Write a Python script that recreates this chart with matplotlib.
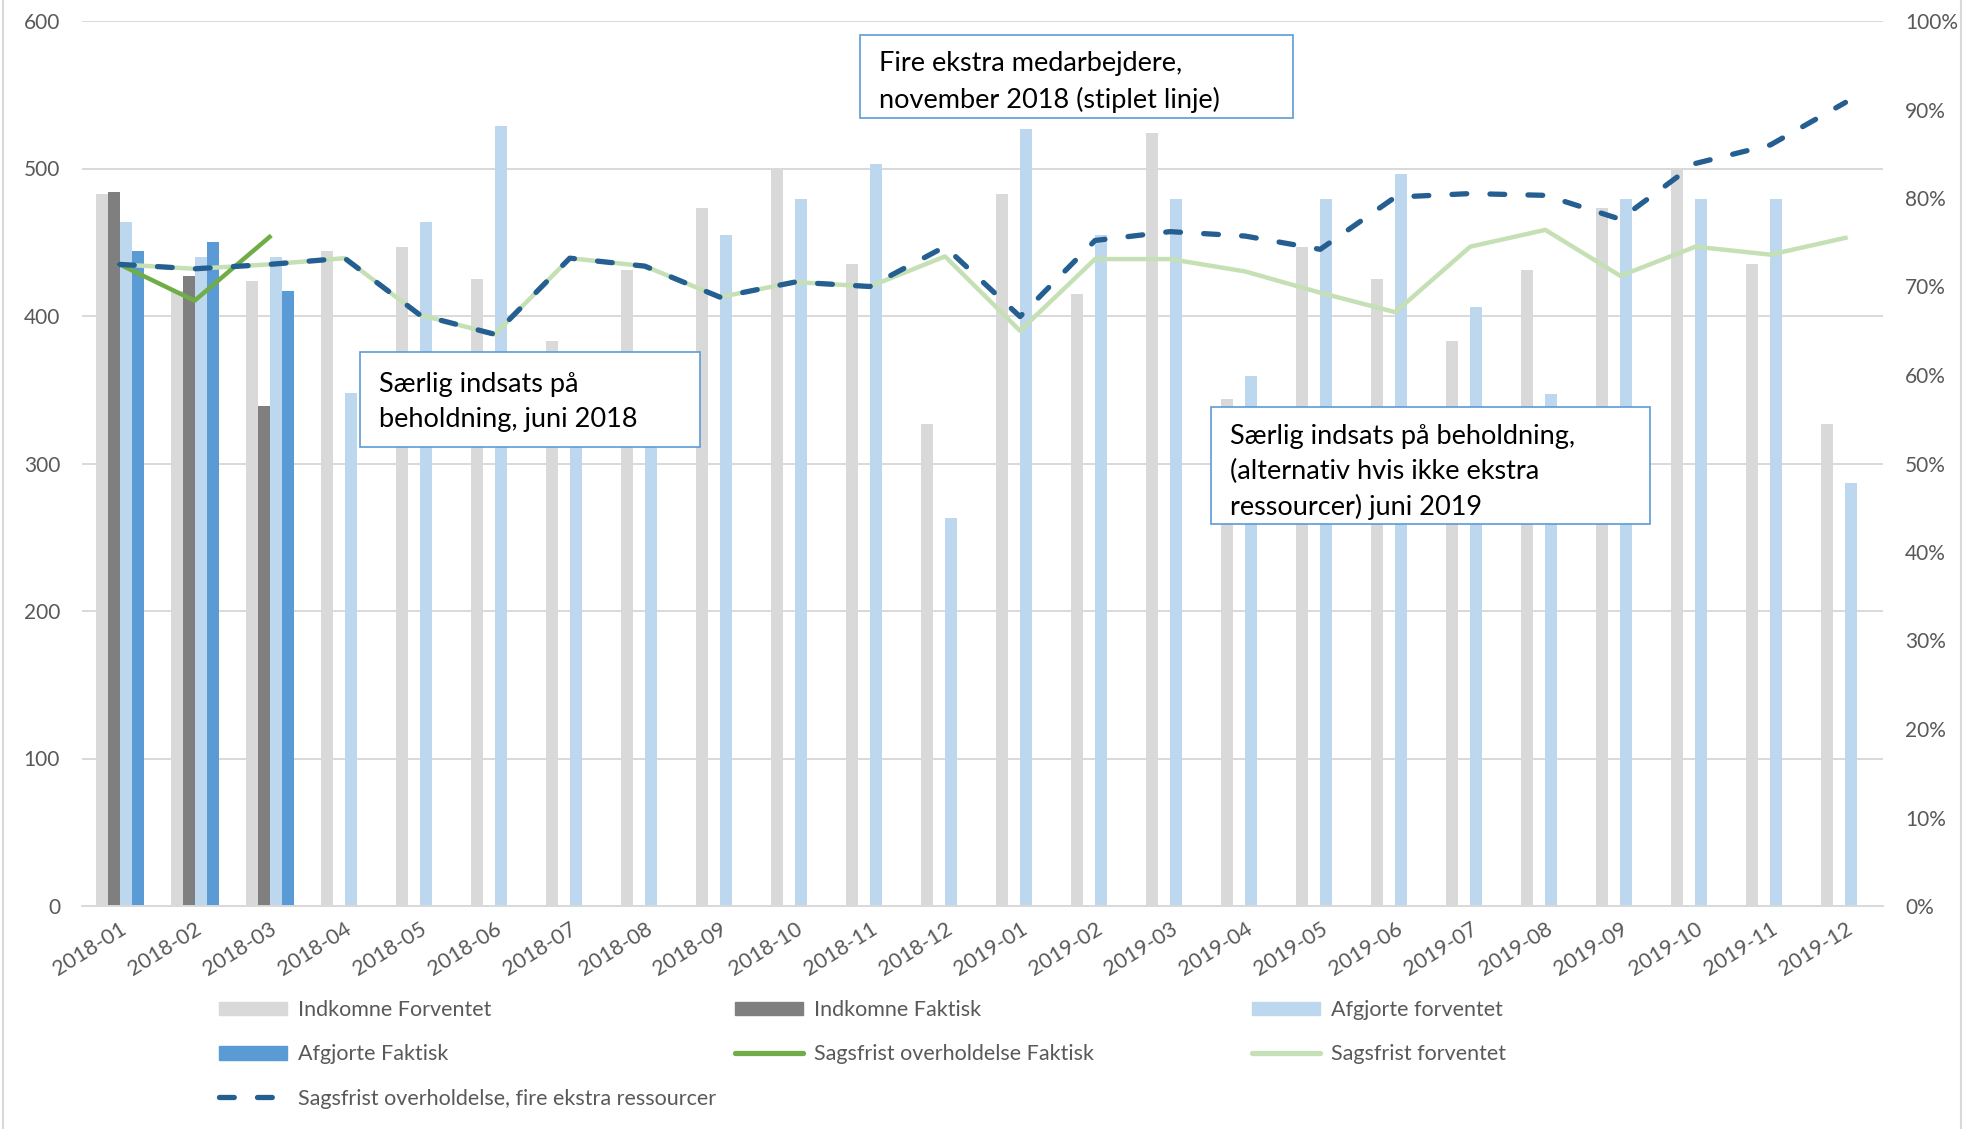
import matplotlib.pyplot as plt
from matplotlib.patches import Rectangle, Patch
from matplotlib.lines import Line2D
from matplotlib.ticker import PercentFormatter
import numpy as np

W, H = 1964, 1129

months = ['2018-01', '2018-02', '2018-03', '2018-04', '2018-05', '2018-06',
          '2018-07', '2018-08', '2018-09', '2018-10', '2018-11', '2018-12',
          '2019-01', '2019-02', '2019-03', '2019-04', '2019-05', '2019-06',
          '2019-07', '2019-08', '2019-09', '2019-10', '2019-11', '2019-12']

indkomne_forventet = [483, 417, 424, 444, 447, 425, 383, 431, 473, 500, 435, 327,
                      483, 415, 524, 344, 447, 425, 383, 431, 473, 500, 435, 327]
indkomne_faktisk = [484, 427, 339]
afgjorte_forventet = [464, 440, 440, 348, 464, 529, 340, 350, 455, 479, 503, 263,
                      527, 455, 479, 359, 479, 496, 406, 347, 479, 479, 479, 287]
afgjorte_faktisk = [444, 450, 417]

sagsfrist_faktisk = [0.725, 0.684, 0.756]
sagsfrist_forventet = [0.725, 0.720, 0.725, 0.732, 0.668, 0.646, 0.732, 0.723,
                       0.688, 0.705, 0.700, 0.734, 0.650, 0.731, 0.731, 0.717,
                       0.693, 0.671, 0.745, 0.764, 0.712, 0.745, 0.736, 0.755]
sagsfrist_ekstra = [0.725, 0.720, 0.725, 0.732, 0.668, 0.646, 0.732, 0.723,
                    0.688, 0.705, 0.700, 0.745, 0.666, 0.752, 0.762, 0.757,
                    0.742, 0.801, 0.805, 0.803, 0.776, 0.839, 0.860, 0.908]

notes = ['Særlig indsats på\nbeholdning, juni 2018',
         'Fire ekstra medarbejdere,\nnovember 2018 (stiplet linje)',
         'Særlig indsats på beholdning,\n(alternativ hvis ikke ekstra\nressourcer) juni 2019']

c_if, c_ifak = '#d9d9d9', '#7f7f7f'
c_af, c_afak = '#bdd7ee', '#5b9bd5'
c_sf, c_sforv, c_ekstra = '#70ad47', '#c5e0b4', '#255e91'
grey_txt = '#595959'

plt.rcParams['font.family'] = ['Lato', 'DejaVu Sans']


def fx(px):
    return px / W


def fy(py):
    return 1 - py / H


fig = plt.figure(figsize=(W / 100, H / 100), dpi=100)
ax = fig.add_axes([fx(82), fy(906), fx(1883) - fx(82), fy(21) - fy(906)])
ax2 = ax.twinx()

x = np.arange(len(months))
w = 0.16
ax.bar(x - 1.5 * w, indkomne_forventet, w, color=c_if, zorder=2)
ax.bar(x[:3] - 0.5 * w, indkomne_faktisk, w, color=c_ifak, zorder=2)
ax.bar(x + 0.5 * w, afgjorte_forventet, w, color=c_af, zorder=2)
ax.bar(x[:3] + 1.5 * w, afgjorte_faktisk, w, color=c_afak, zorder=2)

ax.set_xlim(-0.5, len(months) - 0.5)
ax.set_ylim(0, 600)
ax.set_yticks(range(0, 601, 100))
ax.yaxis.grid(True, color='#d9d9d9', lw=1.4, zorder=0)
ax.set_axisbelow(True)
ax.set_xticks(x)
ax.set_xticklabels(months, rotation=32, ha='right', va='top',
                   rotation_mode='anchor')
ax.tick_params(axis='x', length=0, pad=9, labelsize=15.5, labelcolor=grey_txt)
ax.tick_params(axis='y', length=0, pad=15.8, labelsize=15, labelcolor=grey_txt)
for s in ['top', 'right', 'left']:
    ax.spines[s].set_visible(False)
ax.spines['bottom'].set_color('#d9d9d9')
ax.spines['bottom'].set_linewidth(1.4)

ax2.plot(x, sagsfrist_forventet, color=c_sforv, lw=3.2, zorder=3)
ax2.plot(x[:3], sagsfrist_faktisk, color=c_sf, lw=3.2, zorder=4)
ax2.plot(x, sagsfrist_ekstra, color=c_ekstra, lw=3.8, dashes=(2.8, 4.4),
         dash_capstyle='round', zorder=5)
ax2.set_ylim(0, 1)
ax2.set_yticks(np.arange(0, 1.01, 0.1))
ax2.yaxis.set_major_formatter(PercentFormatter(1.0, decimals=0))
ax2.tick_params(axis='y', length=0, pad=15.8, labelsize=15, labelcolor=grey_txt)
for s in ['top', 'right', 'left', 'bottom']:
    ax2.spines[s].set_visible(False)

# annotation boxes (pixel boxes: left, top, right, bottom, text centre y)
boxes = [(360, 352, 700, 447, 402), (860, 35, 1293, 118, 82),
         (1211, 407, 1650, 524, 472)]
for (l, t, r, b, ty), note in zip(boxes, notes):
    fig.patches.append(Rectangle((fx(l), fy(b)), fx(r) - fx(l), fy(t) - fy(b),
                                 transform=fig.transFigure, facecolor='white',
                                 edgecolor='#5b9bd5', lw=1.2, zorder=5))
    fig.text(fx(l + 19), fy(ty), note, fontsize=19.5, va='center',
             ha='left', linespacing=1.5, color='black', zorder=6)

# legend, laid out in three columns like the original
leg_kw = dict(frameon=False, fontsize=15.5, handlelength=3.15, handleheight=0.6,
              handletextpad=0.5, labelspacing=1.13, borderpad=0,
              borderaxespad=0, loc='upper left', labelcolor=grey_txt)
col1 = [(Patch(color=c_if), 'Indkomne Forventet'),
        (Patch(color=c_afak), 'Afgjorte Faktisk'),
        (Line2D([], [], color=c_ekstra, lw=3.8, dashes=(2.8, 4.4),
                dash_capstyle='round'), 'Sagsfrist overholdelse, fire ekstra ressourcer')]
col2 = [(Patch(color=c_ifak), 'Indkomne Faktisk'),
        (Line2D([], [], color=c_sf, lw=3.8, solid_capstyle='round'),
         'Sagsfrist overholdelse Faktisk')]
col3 = [(Patch(color=c_af), 'Afgjorte forventet'),
        (Line2D([], [], color=c_sforv, lw=3.8, solid_capstyle='round'),
         'Sagsfrist forventet')]
for cx, col in zip([219, 735, 1252], [col1, col2, col3]):
    h, lab = zip(*col)
    fig.legend(h, lab, bbox_to_anchor=(fx(cx), fy(1000)), **leg_kw)

# chart border
for bx in [3, 1961]:
    fig.add_artist(Line2D([fx(bx), fx(bx)], [0, 1], color='#d9d9d9', lw=1.5,
                          transform=fig.transFigure))

fig.savefig('out.png', dpi=100, facecolor='white')
